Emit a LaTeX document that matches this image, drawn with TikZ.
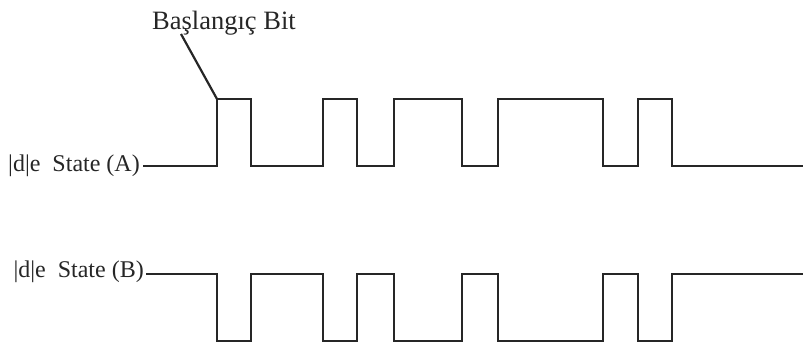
\documentclass[tikz,border=0pt]{standalone}
\usepackage{fontspec}
\setmainfont{Liberation Serif}
\begin{document}
\begin{tikzpicture}[x=1pt,y=-1pt,
  wave/.style={line width=2.4pt, line join=miter, color=black!85},
  lbl/.style={inner sep=0pt, font=\fontsize{24}{28}\selectfont, text=black!85}]
\useasboundingbox (0,0) rectangle (803,342);
% labels
\node[lbl, anchor=east] (labA) at (140,166) {|d|e\ \ State (A)};
\node[lbl, anchor=east] (labB) at (144,272) {|d|e\ \ State (B)};
\node[lbl, anchor=base west, font=\fontsize{26.5}{30}\selectfont] (start) at (152,30) {Başlangıç Bit};
% signal A
\coordinate (a0) at (143,166);
\coordinate (a1) at (217,99);
\draw[wave] (a0) -- (217,166) |- (251,99) |- (323,166) |- (357,99) |- (394,166)
  |- (462,99) |- (498,166) |- (603,99) |- (638,166) |- (672,99) |- (803,166);
% signal B
\coordinate (b0) at (146,274);
\draw[wave] (b0) -- (217,274) |- (251,341) |- (323,274) |- (357,341) |- (394,274)
  |- (462,341) |- (498,274) |- (603,341) |- (638,274) |- (672,341) |- (803,274);
% leader
\coordinate (lead) at (181,34);
\draw[wave, line width=2.2pt] (lead) -- (a1);
\end{tikzpicture}
\end{document}
